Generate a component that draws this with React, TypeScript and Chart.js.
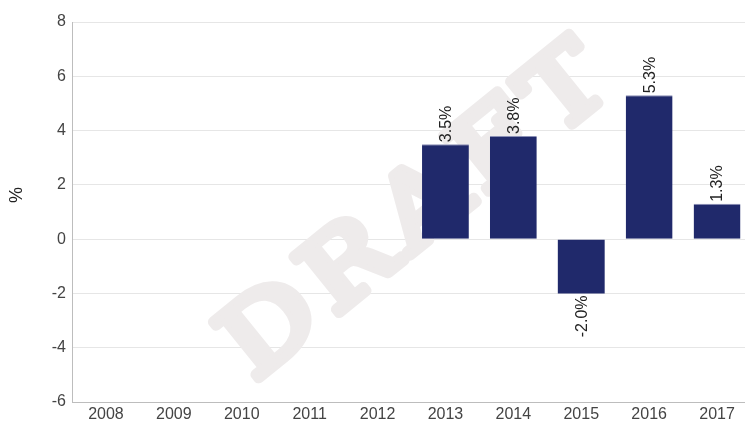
import React, { useEffect, useRef } from "react";
import { Chart, registerables } from "chart.js";

Chart.register(...registerables);

const categories = ["2008", "2009", "2010", "2011", "2012", "2013", "2014", "2015", "2016", "2017"];
const values: (number | null)[] = [null, null, null, null, null, 3.5, 3.8, -2.0, 5.3, 1.3];
const labels: string[] = ["", "", "", "", "", "3.5%", "3.8%", "-2.0%", "5.3%", "1.3%"];
const yTicks = { min: -6, max: 8, step: 2 };
const yTitle = "%";
const watermark = "DRAFT";

const FONT = "'Liberation Sans', Arial, sans-serif";

const watermarkPlugin = {
  id: "watermark",
  beforeDatasetsDraw(chart: any) {
    const { ctx, chartArea } = chart;
    ctx.save();
    const cx = chartArea.left + 340;
    const cy = chartArea.top + 186;
    ctx.translate(cx, cy);
    ctx.rotate((-39 * Math.PI) / 180);
    ctx.scale(1.15, 1);
    ctx.font = "100px 'DejaVu Serif', serif";
    try {
      (ctx as any).letterSpacing = "10px";
    } catch (e) {}
    ctx.textAlign = "center";
    ctx.textBaseline = "alphabetic";
    ctx.fillStyle = "rgb(238,235,235)";
    ctx.strokeStyle = "rgb(238,235,235)";
    ctx.lineJoin = "round";
    ctx.lineCap = "round";
    ctx.lineWidth = 10;
    ctx.strokeText(watermark, 5, 36);
    ctx.fillText(watermark, 5, 36);
    ctx.restore();
  },
};

const extrasPlugin = {
  id: "extras",
  afterDatasetsDraw(chart: any) {
    const { ctx, chartArea } = chart;
    const meta = chart.getDatasetMeta(0);
    ctx.save();
    ctx.font = "16px " + FONT;
    ctx.fillStyle = "#222";
    ctx.textBaseline = "middle";
    meta.data.forEach((el: any, i: number) => {
      const v = values[i];
      if (v === null || v === undefined) return;
      ctx.save();
      if (v >= 0) {
        ctx.translate(el.x + 1, el.y - 2);
        ctx.rotate(-Math.PI / 2);
        ctx.textAlign = "left";
      } else {
        ctx.translate(el.x + 1, el.y + 2);
        ctx.rotate(-Math.PI / 2);
        ctx.textAlign = "right";
      }
      ctx.fillText(labels[i], 0, 0);
      ctx.restore();
    });
    // y axis title
    ctx.save();
    ctx.translate(chartArea.left - 55, chartArea.top + 173);
    ctx.rotate(-Math.PI / 2);
    ctx.textAlign = "center";
    ctx.textBaseline = "middle";
    ctx.font = "18px " + FONT;
    ctx.fillStyle = "#222";
    ctx.fillText(yTitle, 0, 0);
    ctx.restore();
    ctx.restore();
  },
};

export default function App() {
  const ref = useRef<HTMLCanvasElement | null>(null);
  useEffect(() => {
    if (!ref.current) return;
    const chart = new Chart(ref.current, {
      type: "bar",
      data: {
        labels: categories,
        datasets: [
          {
            data: values,
            backgroundColor: "#20296b",
            borderColor: "#8a8fb5",
            borderWidth: { top: 1, left: 0, right: 0, bottom: 0 },
            borderSkipped: "start",
            categoryPercentage: 1,
            barPercentage: 0.69,
          },
        ],
      },
      options: {
        animation: false,
        responsive: true,
        maintainAspectRatio: false,
        layout: { padding: { top: 22, right: 1, left: 0, bottom: 0 } },
        plugins: {
          legend: { display: false },
          tooltip: { enabled: false },
        },
        scales: {
          x: {
            grid: { display: false, drawTicks: false },
            border: { display: true, color: "#bdbdbd", width: 1 },
            ticks: {
              color: "#444",
              font: { size: 16, family: FONT },
              padding: 3,
              maxRotation: 0,
              autoSkip: false,
            },
            afterFit(scale: any) {
              scale.height = 22;
            },
          },
          y: {
            min: yTicks.min,
            max: yTicks.max,
            grid: { color: "#e6e6e6", drawTicks: false },
            border: { display: true, color: "#bdbdbd", width: 1 },
            ticks: {
              stepSize: yTicks.step,
              color: "#444",
              font: { size: 16, family: FONT },
              padding: 6,
            },
            afterFit(scale: any) {
              scale.width = 72;
            },
          },
        },
      },
      plugins: [watermarkPlugin, extrasPlugin],
    });
    return () => chart.destroy();
  }, []);

  return (
    <div style={{ position: "fixed", left: 0, top: 0, width: 745, height: 424, overflow: "hidden", background: "#fff" }}>
      <div style={{ position: "relative", width: 752, height: 424 }}>
        <canvas ref={ref} />
      </div>
    </div>
  );
}
